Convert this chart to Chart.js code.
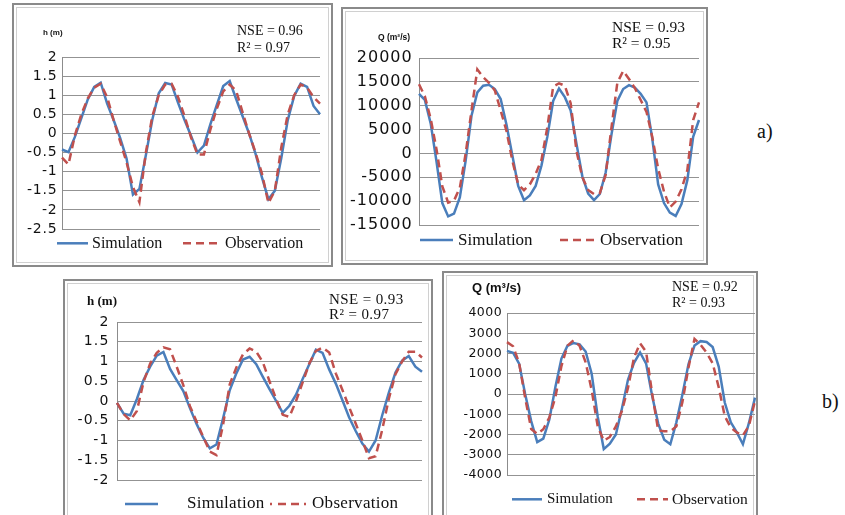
<!DOCTYPE html>
<html><head><meta charset="utf-8">
<script src="https://cdn.jsdelivr.net/npm/chart.js@4"></script>
<style>
html,body{margin:0;padding:0;background:#fff;width:845px;height:515px;overflow:hidden;position:relative;}
.frame{position:absolute;border:2px solid #8a8a8a;box-sizing:border-box;box-shadow:inset 0 0 0 2px #fff,inset 0 0 0 3px #d0d0d0;pointer-events:none;}
canvas{position:absolute;}
.t{position:absolute;white-space:nowrap;color:#111;line-height:1;font-family:"Liberation Serif","Times New Roman",serif;}
.ax{font-family:"Liberation Sans",Arial,sans-serif;font-weight:bold;}
svg.ov{position:absolute;left:0;top:0;pointer-events:none;}
</style></head><body>
<div class="frame" style="left:12px;top:3px;width:321px;height:264px"></div>
<div class="frame" style="left:341px;top:7px;width:367px;height:258px"></div>
<div class="frame" style="left:63px;top:279px;width:370px;height:250px"></div>
<div class="frame" style="left:442px;top:271px;width:316px;height:250px"></div>
<canvas id="c1"></canvas><canvas id="c2"></canvas><canvas id="c3"></canvas><canvas id="c4"></canvas>

<div class="t ax" style="left:43px;top:29px;font-size:8px">h (m)</div>
<div class="t" style="left:237px;top:23.5px;font-size:14px">NSE = 0.96</div>
<div class="t" style="left:237px;top:41px;font-size:14px">R² = 0.97</div>
<div class="t" style="left:92px;top:235px;font-size:16px">Simulation</div>
<div class="t" style="left:225px;top:235px;font-size:16px">Observation</div>

<div class="t ax" style="left:378px;top:33px;font-size:8.5px">Q (m²/s)</div>
<div class="t" style="left:612px;top:19px;font-size:15.5px">NSE = 0.93</div>
<div class="t" style="left:612px;top:34.5px;font-size:15.5px">R² = 0.95</div>
<div class="t" style="left:458px;top:231px;font-size:17px">Simulation</div>
<div class="t" style="left:600px;top:231px;font-size:17px">Observation</div>

<div class="t" style="left:87px;top:294px;font-size:13px;font-weight:bold">h (m)</div>
<div class="t" style="left:329px;top:292px;font-size:15px;letter-spacing:0.4px">NSE = 0.93</div>
<div class="t" style="left:329px;top:307px;font-size:15px;letter-spacing:0.4px">R² = 0.97</div>
<div class="t" style="left:187px;top:494px;font-size:17px;letter-spacing:0.3px">Simulation</div>
<div class="t" style="left:312px;top:494px;font-size:17px;letter-spacing:0.3px">Observation</div>

<div class="t ax" style="left:472px;top:281px;font-size:13px">Q (m³/s)</div>
<div class="t" style="left:672px;top:280px;font-size:14px">NSE = 0.92</div>
<div class="t" style="left:672px;top:296px;font-size:14px">R² = 0.93</div>
<div class="t" style="left:547px;top:491px;font-size:15px">Simulation</div>
<div class="t" style="left:672px;top:491px;font-size:15.5px">Observation</div>

<div class="t" style="left:757px;top:121px;font-size:20px">a)</div>
<div class="t" style="left:822px;top:391px;font-size:20px">b)</div>

<svg class="ov" width="845" height="515">
 <g stroke-width="2.5" fill="none">
  <line x1="57" y1="243.3" x2="88" y2="243.3" stroke="#4a7ebb"/>
  <line x1="183" y1="243.3" x2="217" y2="243.3" stroke="#c0504d" stroke-dasharray="8,5"/>
  <line x1="420" y1="240" x2="453" y2="240" stroke="#4a7ebb"/>
  <line x1="560" y1="240" x2="597" y2="240" stroke="#c0504d" stroke-dasharray="8,5"/>
  <line x1="125" y1="504" x2="158" y2="504" stroke="#4a7ebb"/>
  <line x1="270" y1="504" x2="307" y2="504" stroke="#c0504d" stroke-dasharray="2,6,8,5,8,5"/>
  <line x1="512" y1="499.3" x2="542" y2="499.3" stroke="#4a7ebb"/>
  <line x1="637" y1="499.3" x2="668" y2="499.3" stroke="#c0504d" stroke-dasharray="8,5"/>
 </g>
</svg>

<script>
// ---- (a) water level h (m)
const simHA = [-0.42,-0.49,-0.09,0.40,0.89,1.22,1.33,0.78,0.35,-0.11,-0.65,-1.60,-1.45,-0.57,0.36,1.05,1.32,1.28,0.80,0.35,-0.06,-0.50,-0.32,0.24,0.75,1.24,1.37,0.90,0.45,0.00,-0.53,-1.15,-1.72,-1.50,-0.64,0.35,0.98,1.30,1.22,0.72,0.50];
const obsHA = [-0.63,-0.81,-0.05,0.50,0.92,1.20,1.30,0.95,0.35,-0.20,-0.75,-1.40,-1.80,-0.50,0.45,1.00,1.28,1.30,0.95,0.45,-0.10,-0.55,-0.55,0.10,0.65,1.10,1.28,1.12,0.55,0.00,-0.50,-1.05,-1.82,-1.50,-0.36,0.50,1.00,1.28,1.20,0.95,0.78];
const ticksHA = [2,1.5,1,0.5,0,-0.5,-1,-1.5,-2,-2.5];
// ---- (a) discharge Q (m2/s)
const simQA = [12500,11200,6300,-1700,-10400,-13200,-12600,-9200,-1500,7900,12800,14200,14400,13500,11400,6000,-400,-6800,-9800,-8800,-6800,-2500,3500,11000,13600,11800,9000,2000,-4800,-8400,-9800,-8500,-4000,4000,11000,13500,14300,13800,12500,10700,3000,-6500,-10400,-12400,-13100,-10600,-5600,3500,7000];
const obsQA = [14500,12000,7300,900,-6900,-10300,-9900,-7200,0,9000,17600,16000,14800,13200,9000,4700,-1500,-6500,-7700,-6500,-4300,-1300,5500,14000,14700,14200,10500,500,-5000,-7700,-8500,-8300,-4500,5500,14800,17300,15600,13700,11200,8700,3400,-3200,-8000,-11300,-10100,-7500,-3500,7000,10700];
const ticksQA = [20000,15000,10000,5000,0,-5000,-10000,-15000];
// ---- (b) water level h (m)
const simHB = [-0.05,-0.32,-0.36,0.05,0.53,0.87,1.15,1.24,0.81,0.53,0.25,-0.18,-0.58,-0.93,-1.20,-1.10,-0.44,0.27,0.70,1.05,1.12,0.93,0.61,0.30,0.00,-0.30,-0.12,0.16,0.56,0.93,1.30,1.22,0.80,0.44,0.02,-0.41,-0.76,-1.08,-1.28,-1.00,-0.36,0.21,0.72,1.02,1.14,0.87,0.74];
const obsHB = [-0.05,-0.33,-0.49,-0.25,0.48,0.95,1.22,1.36,1.31,0.87,0.40,-0.13,-0.52,-0.91,-1.28,-1.37,-0.60,0.42,0.85,1.18,1.33,1.25,0.98,0.50,0.05,-0.35,-0.40,0.00,0.47,0.95,1.27,1.35,1.23,0.70,0.28,-0.15,-0.57,-1.00,-1.45,-1.40,-0.73,0.06,0.68,1.00,1.25,1.25,1.10];
const ticksHB = [2,1.5,1,0.5,0,-0.5,-1,-1.5,-2];
// ---- (b) discharge Q (m3/s)
const simQB = [2130,2040,1500,0,-1340,-2380,-2200,-1260,350,1750,2380,2520,2450,2100,1000,-1120,-2720,-2450,-2000,-720,700,1540,2050,1500,-100,-1460,-2260,-2480,-1400,-20,1470,2390,2610,2570,2320,1350,-420,-1400,-1900,-2480,-1430,-180];
const obsQB = [2560,2360,1540,-190,-1730,-1970,-1740,-1160,-150,1380,2390,2650,2380,1560,190,-1600,-2310,-2120,-1600,-830,300,1800,2500,2080,20,-1800,-1840,-1840,-1600,-400,1300,2720,2430,2040,1520,330,-1090,-1660,-1900,-2050,-1560,-340];
const ticksQB = [4000,3000,2000,1000,0,-1000,-2000,-3000,-4000];

const SIM_COLOR = '#4a7ebb', OBS_COLOR = '#c0504d';

function build(id, box, area, sim, obs, ticks, f) {
  const cv = document.getElementById(id);
  cv.width = box.w; cv.height = box.h;
  cv.style.left = box.x + 'px'; cv.style.top = box.y + 'px';
  cv.style.width = box.w + 'px'; cv.style.height = box.h + 'px';
  const yW = area.l - box.x;
  const labels = sim.map((_, i) => i + 1);
  const ls = f.ls + 'px';
  new Chart(cv, {
    type: 'line',
    data: { labels, datasets: [
      { label: 'Simulation', data: sim, borderColor: SIM_COLOR, borderWidth: 2.5, pointRadius: 0, tension: 0, fill: false, order: 1 },
      { label: 'Observation', data: obs, borderColor: OBS_COLOR, borderWidth: 2.5, borderDash: [8, 5], pointRadius: 0, tension: 0, fill: false, order: 0 }
    ]},
    options: {
      responsive: false, animation: false, devicePixelRatio: 1,
      layout: { padding: { left: 0, top: area.t - box.y, right: box.x + box.w - area.r, bottom: box.y + box.h - area.b } },
      plugins: { legend: { display: false }, tooltip: { enabled: false } },
      scales: {
        x: { display: false, offset: false },
        y: {
          min: ticks[ticks.length - 1], max: ticks[0],
          afterBuildTicks: s => { s.ticks = ticks.map(v => ({ value: v })); },
          afterFit: s => { s.width = yW; },
          grid: { color: '#939393', lineWidth: 1, drawTicks: false },
          border: { color: '#8c8c8c', width: 1 },
          ticks: { autoSkip: false, padding: f.pad, color: '#111', font: { family: 'DejaVu Sans', size: f.size, lineHeight: 1 }, callback: v => String(v) }
        }
      }
    },
    plugins: [{ id: 'ls',
      beforeLayout(c) { c.ctx.letterSpacing = ls; },
      beforeDraw(c) { c.ctx.letterSpacing = ls; } }]
  });
}

build('c1', {x:12, y:3, w:321, h:264}, {l:62, t:57, r:320, b:229}, simHA, obsHA, ticksHA, {size:14, ls:0.8, pad:4.5});
build('c2', {x:341, y:7, w:367, h:258}, {l:419, t:58, r:699, b:225}, simQA, obsQA, ticksQA, {size:16, ls:1, pad:6.3});
build('c3', {x:63, y:279, w:370, h:236}, {l:117, t:322, r:422, b:480}, simHB, obsHB, ticksHB, {size:14, ls:1.2, pad:7.5});
build('c4', {x:442, y:271, w:316, h:244}, {l:507, t:313, r:755, b:475}, simQB, obsQB, ticksQB, {size:12.5, ls:0.5, pad:4.8});
</script>
</body></html>
